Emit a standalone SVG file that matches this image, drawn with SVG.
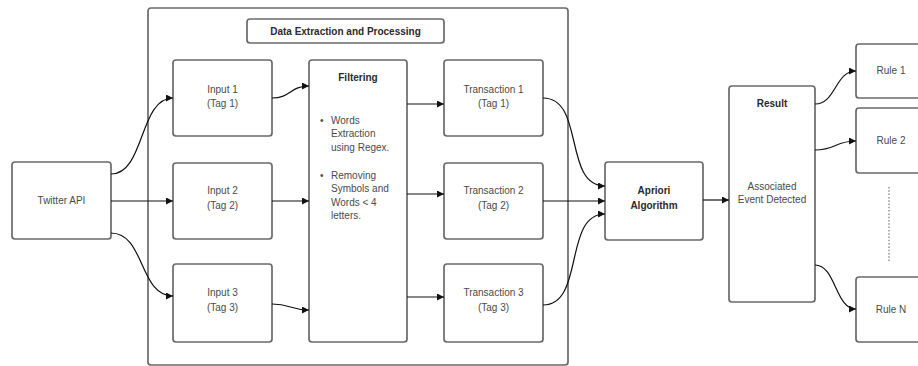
<svg xmlns="http://www.w3.org/2000/svg" width="918" height="366" viewBox="0 0 918 366">
  <style>
    .box { fill: #ffffff; stroke: #6a6a6a; stroke-width: 1.7; }
    .frame { fill: none; stroke: #6a6a6a; stroke-width: 1.7; }
    .lbl { font-family: "Liberation Sans", Arial, sans-serif; font-size: 10px; fill: #4a4a4a; text-anchor: middle; }
    .hdr { font-family: "Liberation Sans", Arial, sans-serif; font-size: 10px; font-weight: bold; fill: #2a2a2a; text-anchor: middle; }
    .txt { font-family: "Liberation Sans", Arial, sans-serif; font-size: 10px; fill: #4a4a4a; }
    .edge { fill: none; stroke: #111; stroke-width: 1.2; marker-end: url(#arr); }
  </style>
  <defs>
    <marker id="arr" viewBox="0 0 10 10" refX="10" refY="5" markerWidth="9" markerHeight="7" orient="auto" markerUnits="userSpaceOnUse">
      <path d="M0,0 L10,5 L0,10 z" fill="#111"/>
    </marker>
  </defs>
  <rect width="918" height="366" fill="#ffffff"/>

  <!-- processing frame -->
  <g id="frame">
    <rect class="frame" x="148" y="8" width="420" height="357" rx="3"/>
  </g>
  <g id="title">
    <rect class="box" x="247" y="19" width="197" height="24" rx="3"/>
    <text class="hdr" x="345.5" y="34.5">Data Extraction and Processing</text>
  </g>

  <g id="twitter">
    <rect class="box" x="12" y="162" width="99" height="77" rx="3"/>
    <text class="lbl" x="61.5" y="203.5">Twitter API</text>
  </g>

  <g id="input1">
    <rect class="box" x="173" y="60" width="99" height="76" rx="3"/>
    <text class="lbl" x="222.5" y="93">Input 1</text>
    <text class="lbl" x="222.5" y="107">(Tag 1)</text>
  </g>
  <g id="input2">
    <rect class="box" x="173" y="163" width="99" height="76" rx="3"/>
    <text class="lbl" x="222.5" y="194">Input 2</text>
    <text class="lbl" x="222.5" y="209">(Tag 2)</text>
  </g>
  <g id="input3">
    <rect class="box" x="173" y="264" width="99" height="78" rx="3"/>
    <text class="lbl" x="222.5" y="296">Input 3</text>
    <text class="lbl" x="222.5" y="311">(Tag 3)</text>
  </g>

  <g id="filtering">
    <rect class="box" x="309" y="60" width="98" height="282" rx="3"/>
    <text class="hdr" x="358" y="80.5">Filtering</text>
    <text class="txt" x="320" y="123.5">•</text>
    <text class="txt" x="331" y="123.5">Words</text>
    <text class="txt" x="331" y="137">Extraction</text>
    <text class="txt" x="331" y="150.5">using Regex.</text>
    <text class="txt" x="320" y="178.5">•</text>
    <text class="txt" x="331" y="178.5">Removing</text>
    <text class="txt" x="331" y="192">Symbols and</text>
    <text class="txt" x="331" y="205.5">Words &lt; 4</text>
    <text class="txt" x="331" y="219">letters.</text>
  </g>

  <g id="trans1">
    <rect class="box" x="444" y="60" width="99" height="76" rx="3"/>
    <text class="lbl" x="493.5" y="93">Transaction 1</text>
    <text class="lbl" x="493.5" y="107">(Tag 1)</text>
  </g>
  <g id="trans2">
    <rect class="box" x="444" y="163" width="99" height="76" rx="3"/>
    <text class="lbl" x="493.5" y="194">Transaction 2</text>
    <text class="lbl" x="493.5" y="209">(Tag 2)</text>
  </g>
  <g id="trans3">
    <rect class="box" x="444" y="264" width="99" height="78" rx="3"/>
    <text class="lbl" x="493.5" y="296">Transaction 3</text>
    <text class="lbl" x="493.5" y="311">(Tag 3)</text>
  </g>

  <g id="apriori">
    <rect class="box" x="605" y="162" width="98" height="78" rx="3"/>
    <text class="hdr" x="654" y="193.5">Apriori</text>
    <text class="hdr" x="654" y="209">Algorithm</text>
  </g>

  <g id="result">
    <rect class="box" x="729" y="86" width="86" height="216" rx="3"/>
    <text class="hdr" x="772" y="106.5">Result</text>
    <text class="lbl" x="772" y="190">Associated</text>
    <text class="lbl" x="772" y="202.5">Event Detected</text>
  </g>

  <g id="rule1">
    <rect class="box" x="856" y="44" width="100" height="54" rx="3"/>
    <text class="lbl" x="891" y="73.5">Rule 1</text>
  </g>
  <g id="rule2">
    <rect class="box" x="856" y="108" width="100" height="65" rx="3"/>
    <text class="lbl" x="891" y="143.5">Rule 2</text>
  </g>
  <g id="ruleN">
    <rect class="box" x="856" y="277" width="100" height="65" rx="3"/>
    <text class="lbl" x="891" y="312.5">Rule N</text>
  </g>
  <g id="more-rules">
    <line x1="889" y1="187" x2="889" y2="262" stroke="#777" stroke-width="1.2" stroke-dasharray="1.5,1.8"/>
  </g>

  <!-- connectors -->
  <g id="connectors">
    <path class="edge" d="M111,174 C145,174 139,98 173,98"/>
    <path class="edge" d="M111,201 L173,201"/>
    <path class="edge" d="M111,233 C145,233 139,296 173,296"/>

    <path class="edge" d="M272,98 C291,98 290,86 309,86"/>
    <path class="edge" d="M272,201 L309,201"/>
    <path class="edge" d="M272,304 C291,304 290,310 309,310"/>

    <path class="edge" d="M407,104 L444,104"/>
    <path class="edge" d="M407,194 L444,194"/>
    <path class="edge" d="M407,297 L444,297"/>

    <path class="edge" d="M543,98 C585,98 563,186 605,186"/>
    <path class="edge" d="M543,201 L605,201"/>
    <path class="edge" d="M543,305 C585,305 563,214 605,214"/>

    <path class="edge" d="M703,200 L729,200"/>

    <path class="edge" d="M815,104 C836,104 835,71 856,71"/>
    <path class="edge" d="M815,150 C836,150 835,141 856,141"/>
    <path class="edge" d="M815,265 C836,265 835,309 856,309"/>
  </g>
</svg>
